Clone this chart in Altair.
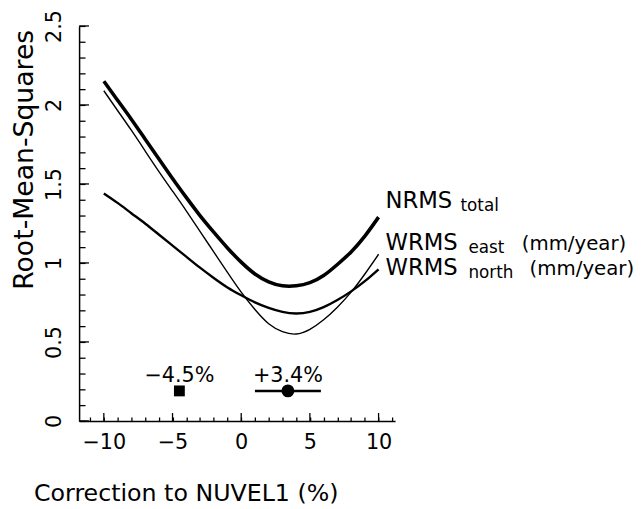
import altair as alt
import pandas as pd

# ---- data ----
x_vals = list(range(-10, 11))
nrms_total = [2.15, 2.03, 1.91, 1.785, 1.66, 1.535, 1.415, 1.30, 1.195, 1.095, 1.005,
              0.93, 0.88, 0.855, 0.855, 0.875, 0.92, 0.99, 1.07, 1.17, 1.29]
wrms_east = [2.09, 1.965, 1.84, 1.71, 1.58, 1.455, 1.33, 1.20, 1.07, 0.94, 0.815,
             0.705, 0.615, 0.565, 0.55, 0.58, 0.64, 0.72, 0.815, 0.93, 1.055]
wrms_north = [1.44, 1.38, 1.315, 1.25, 1.18, 1.11, 1.04, 0.97, 0.905, 0.845, 0.795,
              0.75, 0.715, 0.69, 0.68, 0.69, 0.72, 0.765, 0.82, 0.885, 0.96]

x_tick_values = list(range(-11, 12))                    # every tick on the x axis
y_tick_values = [round(i * 0.1, 1) for i in range(26)]  # every tick on the y axis
x_major_ticks = [-10, -5, 0, 5, 10]                     # labelled x ticks
y_major_ticks = [0, 0.5, 1, 1.5, 2, 2.5]                # labelled y ticks

best_labels = ["\u22124.5%", "+3.4%"]
best_x = [-4.5, 3.4]
best_y = [0.19, 0.19]
err_lo = [1.0]
err_hi = [5.8]
err_y = [0.19]

curve_names = ["NRMS", "WRMS", "WRMS"]
curve_subs = ["total", "east", "north"]
curve_units = ["", "(mm/year)", "(mm/year)"]
curve_label_x = [10.5, 10.5, 10.5]
curve_label_y = [1.39, 1.125, 0.965]

FONT = "DejaVu Sans"
W, H = 320, 400
X_MIN, X_MAX, Y_MIN, Y_MAX = -11.8, 11.2, 0.0, 2.5
PX_X = W / (X_MAX - X_MIN)   # pixels per x unit
PX_Y = H / (Y_MAX - Y_MIN)   # pixels per y unit

df = pd.DataFrame({"x": x_vals, "total": nrms_total, "east": wrms_east, "north": wrms_north})
xscale = alt.Scale(domain=[X_MIN, X_MAX], nice=False, zero=False)
yscale = alt.Scale(domain=[Y_MIN, Y_MAX], nice=False, zero=False)

# axis ticks point inward (negative tick length given as an expression)
x_main = alt.Axis(orient="bottom", values=x_tick_values, ticks=True,
                  tickSize=alt.ExprRef(expr="-4"), tickColor="black", tickWidth=1.3,
                  labelPadding=15, labelFont=FONT, labelFontSize=21, labelColor="black",
                  labelExpr="datum.value % 5 === 0 ? format(datum.value, '~g') : ''",
                  labelOverlap=False,
                  domainColor="black", domainWidth=1.5, grid=False,
                  title="Correction to NUVEL1 (%)", titleFont=FONT, titleFontSize=24,
                  titleFontWeight="normal", titleColor="black",
                  titleX=108, titleY=74, titleAlign="center", titleBaseline="middle")
y_main = alt.Axis(orient="left", values=y_tick_values, ticks=True,
                  tickSize=alt.ExprRef(expr="-6"), tickColor="black", tickWidth=1.3,
                  labelAngle=270, labelAlign="center", labelBaseline="bottom",
                  labelPadding=21, labelFont=FONT, labelFontSize=21, labelColor="black",
                  labelExpr="abs(datum.value * 2 - round(datum.value * 2)) < 0.001 ? format(datum.value, '~g') : ''",
                  labelOverlap=False,
                  domainColor="black", domainWidth=1.5, grid=False,
                  title="Root-Mean-Squares", titleFont=FONT, titleFontSize=27,
                  titleFontWeight="normal", titleColor="black", titleAngle=270,
                  titleX=-55, titleY=135, titleAlign="center", titleBaseline="middle")


def X(field):
    return alt.X(field, type="quantitative", scale=xscale, axis=x_main)


def Y(field):
    return alt.Y(field, type="quantitative", scale=yscale, axis=y_main)


# longer inward ticks at the labelled values, end points through the scales
x_tick_df = pd.DataFrame({"v": x_major_ticks,
                          "a": [Y_MIN] * len(x_major_ticks),
                          "b": [Y_MIN + 8 / PX_Y] * len(x_major_ticks)})
y_tick_df = pd.DataFrame({"v": y_major_ticks,
                          "a": [X_MIN] * len(y_major_ticks),
                          "b": [X_MIN + 10 / PX_X] * len(y_major_ticks)})

x_ticks = alt.Chart(x_tick_df).mark_rule(color="black", strokeWidth=1.3).encode(
    x=X("v"), x2="v:Q", y=Y("a"), y2="b:Q")
y_ticks = alt.Chart(y_tick_df).mark_rule(color="black", strokeWidth=1.3).encode(
    y=Y("v"), y2="v:Q", x=X("a"), x2="b:Q")

base = alt.Chart(df)
line_total = base.mark_line(color="black", strokeWidth=3.6, interpolate="natural").encode(
    x=X("x"), y=Y("total"))
line_east = base.mark_line(color="black", strokeWidth=1.4, interpolate="natural").encode(
    x=X("x"), y=Y("east"))
line_north = base.mark_line(color="black", strokeWidth=2.4, interpolate="natural").encode(
    x=X("x"), y=Y("north"))

best_df = pd.DataFrame({"label": best_labels, "x": best_x, "y": best_y})
err_df = pd.DataFrame({"lo": err_lo, "hi": err_hi, "y": err_y})

err_rule = alt.Chart(err_df).mark_rule(color="black", strokeWidth=2.5).encode(
    x=X("lo"), x2="hi:Q", y=Y("y"))
square = alt.Chart(best_df.iloc[[0]]).mark_square(size=121, color="black", opacity=1).encode(
    x=X("x"), y=Y("y"))
circle = alt.Chart(best_df.iloc[[1]]).mark_circle(size=170, color="black", opacity=1).encode(
    x=X("x"), y=Y("y"))
best_text = alt.Chart(best_df).mark_text(font=FONT, fontSize=21, color="black", dy=-15,
                                         baseline="middle", align="center").encode(
    x=X("x"), y=Y("y"), text="label:N")

lab_df = pd.DataFrame({"name": curve_names, "sub": curve_subs, "unit": curve_units,
                       "x": curve_label_x, "y": curve_label_y})
label_layers = []
sub_dx = [76, 84, 84]
unit_dx = [0, 138, 146]
for i in range(3):
    row = lab_df.iloc[[i]]
    label_layers.append(alt.Chart(row).mark_text(font=FONT, fontSize=23, color="black", align="left",
                                                 baseline="middle").encode(x=X("x"), y=Y("y"), text="name:N"))
    label_layers.append(alt.Chart(row).mark_text(font=FONT, fontSize=17, color="black", align="left",
                                                 baseline="middle", dx=sub_dx[i], dy=5).encode(
        x=X("x"), y=Y("y"), text="sub:N"))
    if curve_units[i]:
        label_layers.append(alt.Chart(row).mark_text(font=FONT, fontSize=20, color="black", align="left",
                                                     baseline="middle", dx=unit_dx[i], dy=1).encode(
            x=X("x"), y=Y("y"), text="unit:N"))

chart = alt.layer(line_total, line_east, line_north, x_ticks, y_ticks, err_rule, square, circle,
                  best_text, *label_layers).properties(
    width=W, height=H, autosize=alt.AutoSizeParams(type="none"),
    padding={"left": 72, "top": 15, "right": 244, "bottom": 86},
    background="white"
).configure_view(stroke=None)

chart.save("out.html", embed_options={"renderer": "svg", "actions": False})
